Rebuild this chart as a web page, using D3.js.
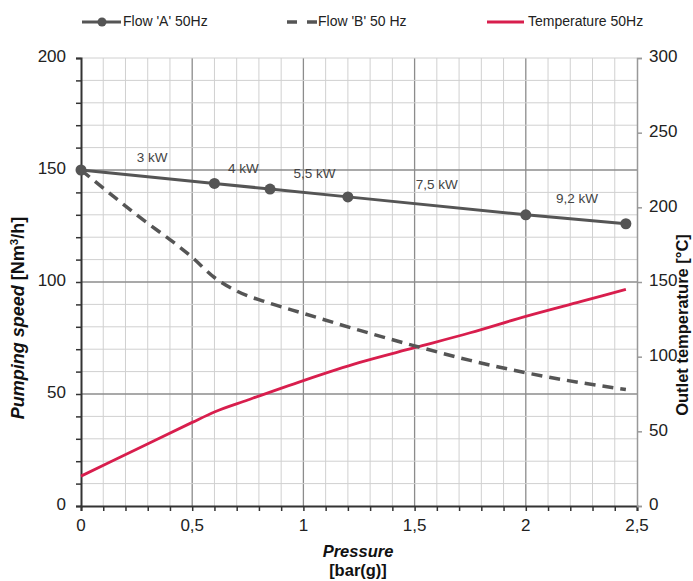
<!DOCTYPE html>
<html>
<head>
<meta charset="utf-8">
<script src="https://cdn.jsdelivr.net/npm/d3@7.9.0/dist/d3.min.js"></script>
<style>
  body { margin: 0; background: #fff; }
  svg { font-family: "Liberation Sans", Arial, sans-serif; }
</style>
</head>
<body>
<svg id="chart" width="693" height="581"></svg>
<script>
// ========== Data ==========
const pressureA = [0, 0.6, 0.85, 1.2, 2.0, 2.45];
const flowA = [150, 144, 141.5, 138, 130, 126];

const pressureB = [0, 0.25, 0.5, 0.6, 0.7, 0.85, 1.0, 1.25, 1.5, 1.75, 2.0, 2.25, 2.45];
const flowB = [150, 130, 111, 102, 96, 90.5, 86, 78.5, 71.5, 65, 59.5, 55, 52];

const pressureT = [0, 0.25, 0.5, 0.6, 0.75, 1.0, 1.25, 1.5, 1.75, 2.0, 2.25, 2.45];
const temperature = [20, 38, 56, 63, 71, 84, 96, 106, 116, 127, 137, 145];

const kwText = ['3 kW', '4 kW', '5,5 kW', '7,5 kW', '9,2 kW'];
const kwPressure = [0.32, 0.73, 1.05, 1.6, 2.23];
const kwFlow = [155, 150.4, 147.8, 143.3, 137];

const xTicks = [0, 0.5, 1, 1.5, 2, 2.5];
const yTicks = [0, 50, 100, 150, 200];
const y2Ticks = [0, 50, 100, 150, 200, 250, 300];

// ========== Scales ==========
const mLeft = 81, mRight = 637, mTop = 58, mBottom = 506;
const x = d3.scaleLinear().domain([0, 2.5]).range([mLeft, mRight]);
const y = d3.scaleLinear().domain([0, 200]).range([mBottom, mTop]);
const y2 = d3.scaleLinear().domain([0, 300]).range([mBottom, mTop]);

const svg = d3.select('#chart');
const fmt = (d) => String(d).replace('.', ',');

// === Grid ===
const grid = svg.append('g');
d3.range(1, 25).map((i) => i / 10).forEach((v) => {
  const major = Math.abs(v * 2 - Math.round(v * 2)) < 1e-6;
  grid.append('line')
    .attr('x1', x(v)).attr('x2', x(v)).attr('y1', mTop).attr('y2', mBottom)
    .attr('stroke', major ? '#8c8c8c' : '#d0d0d0')
    .attr('stroke-width', major ? 1.3 : 1);
});
d3.range(10, 210, 10).forEach((v) => {
  const major = v % 50 === 0 && v !== 200;
  grid.append('line')
    .attr('x1', mLeft).attr('x2', mRight).attr('y1', y(v)).attr('y2', y(v))
    .attr('stroke', major ? '#8c8c8c' : '#d0d0d0')
    .attr('stroke-width', major ? 1.3 : 1);
});

// === Axes ===
const xAxis = svg.append('g')
  .attr('transform', `translate(0,${mBottom})`)
  .call(d3.axisBottom(x).tickValues(d3.range(0, 26).map((i) => i / 10)).tickSize(5).tickFormat(''));
xAxis.select('.domain').attr('stroke', '#333').attr('stroke-width', 2);
xAxis.selectAll('.tick line').attr('stroke', '#333').attr('stroke-width', 1.5);

const yAxis = svg.append('g')
  .attr('transform', `translate(${mLeft},0)`)
  .call(d3.axisLeft(y).tickValues(d3.range(0, 210, 10)).tickSize(5).tickFormat(''));
yAxis.select('.domain').attr('stroke', '#333').attr('stroke-width', 2);
yAxis.selectAll('.tick line').attr('stroke', '#333').attr('stroke-width', 1.5);

const y2Axis = svg.append('g')
  .attr('transform', `translate(${mRight},0)`)
  .call(d3.axisRight(y2).tickValues(y2Ticks).tickSize(5).tickFormat(''));
y2Axis.select('.domain').attr('stroke', '#999').attr('stroke-width', 1.5);
y2Axis.selectAll('.tick line').attr('stroke', '#999').attr('stroke-width', 1.5);

// tick labels
svg.append('g').selectAll('text').data(xTicks).join('text')
  .attr('x', (d) => x(d)).attr('y', 527)
  .attr('text-anchor', 'middle').attr('dominant-baseline', 'middle')
  .attr('font-size', 17).attr('fill', '#222')
  .text(fmt);
svg.append('g').selectAll('text').data(yTicks).join('text')
  .attr('x', 66).attr('y', (d) => y(d))
  .attr('text-anchor', 'end').attr('dominant-baseline', 'middle')
  .attr('font-size', 17).attr('fill', '#222')
  .text((d) => d);
svg.append('g').selectAll('text').data(y2Ticks).join('text')
  .attr('x', 649).attr('y', (d) => y2(d))
  .attr('text-anchor', 'start').attr('dominant-baseline', 'middle')
  .attr('font-size', 17).attr('fill', '#222')
  .text((d) => d);

// === Axis titles ===
svg.append('text').attr('x', 358).attr('y', 557).attr('text-anchor', 'middle')
  .attr('font-size', 16.5).attr('font-weight', 'bold').attr('font-style', 'italic')
  .attr('fill', '#111').text('Pressure');
svg.append('text').attr('x', 358).attr('y', 576).attr('text-anchor', 'middle')
  .attr('font-size', 16.5).attr('font-weight', 'bold')
  .attr('fill', '#111').text('[bar(g)]');

const yt = svg.append('text')
  .attr('transform', 'translate(24,318) rotate(-90)')
  .attr('text-anchor', 'middle')
  .attr('font-size', 18).attr('font-weight', 'bold').attr('fill', '#111');
yt.append('tspan').attr('font-style', 'italic').text('Pumping speed ');
yt.append('tspan').text('[Nm');
yt.append('tspan').attr('font-size', 11.5).attr('dy', -6).text('3');
yt.append('tspan').attr('dy', 6).text('/h]');

svg.append('text')
  .attr('transform', 'translate(688,325) rotate(-90)')
  .attr('text-anchor', 'middle')
  .attr('font-size', 16.5).attr('font-weight', 'bold').attr('fill', '#111')
  .text('Outlet temperature [°C]');

// === Lines ===
const lineA = d3.line().x((d) => x(d[0])).y((d) => y(d[1]));
const lineB = d3.line().x((d) => x(d[0])).y((d) => y(d[1])).curve(d3.curveMonotoneX);
const lineT = d3.line().x((d) => x(d[0])).y((d) => y2(d[1])).curve(d3.curveMonotoneX);

svg.append('path')
  .attr('d', lineT(d3.zip(pressureT, temperature)))
  .attr('fill', 'none').attr('stroke', '#d81e4d').attr('stroke-width', 2.8);

svg.append('path')
  .attr('d', lineB(d3.zip(pressureB, flowB)))
  .attr('fill', 'none').attr('stroke', '#555').attr('stroke-width', 3.5)
  .attr('stroke-dasharray', '11,7');

svg.append('path')
  .attr('d', lineA(d3.zip(pressureA, flowA)))
  .attr('fill', 'none').attr('stroke', '#555').attr('stroke-width', 3);

svg.append('g').selectAll('circle').data(d3.zip(pressureA, flowA)).join('circle')
  .attr('cx', (d) => x(d[0])).attr('cy', (d) => y(d[1])).attr('r', 5.5)
  .attr('fill', '#555');

// === kW labels ===
svg.append('g').selectAll('text').data(kwText).join('text')
  .attr('x', (d, i) => x(kwPressure[i])).attr('y', (d, i) => y(kwFlow[i]))
  .attr('text-anchor', 'middle').attr('dominant-baseline', 'middle')
  .attr('font-size', 13.5).attr('fill', '#444')
  .text((d) => d);

// === Legend ===
const ly = 22;
const lg = svg.append('g').attr('font-size', 14).attr('fill', '#222');
lg.append('line').attr('x1', 82).attr('x2', 121).attr('y1', ly).attr('y2', ly)
  .attr('stroke', '#555').attr('stroke-width', 3);
lg.append('circle').attr('cx', 102).attr('cy', ly).attr('r', 4.5).attr('fill', '#555');
lg.append('text').attr('x', 123).attr('y', ly).attr('dominant-baseline', 'middle').text("Flow 'A' 50Hz");

lg.append('line').attr('x1', 287).attr('x2', 317).attr('y1', ly).attr('y2', ly)
  .attr('stroke', '#555').attr('stroke-width', 3.5).attr('stroke-dasharray', '10,10');
lg.append('text').attr('x', 318).attr('y', ly).attr('dominant-baseline', 'middle').text("Flow 'B' 50 Hz");

lg.append('line').attr('x1', 487).attr('x2', 524).attr('y1', ly).attr('y2', ly)
  .attr('stroke', '#d81e4d').attr('stroke-width', 3);
lg.append('text').attr('x', 528).attr('y', ly).attr('dominant-baseline', 'middle').text('Temperature 50Hz');
</script>
</body>
</html>
